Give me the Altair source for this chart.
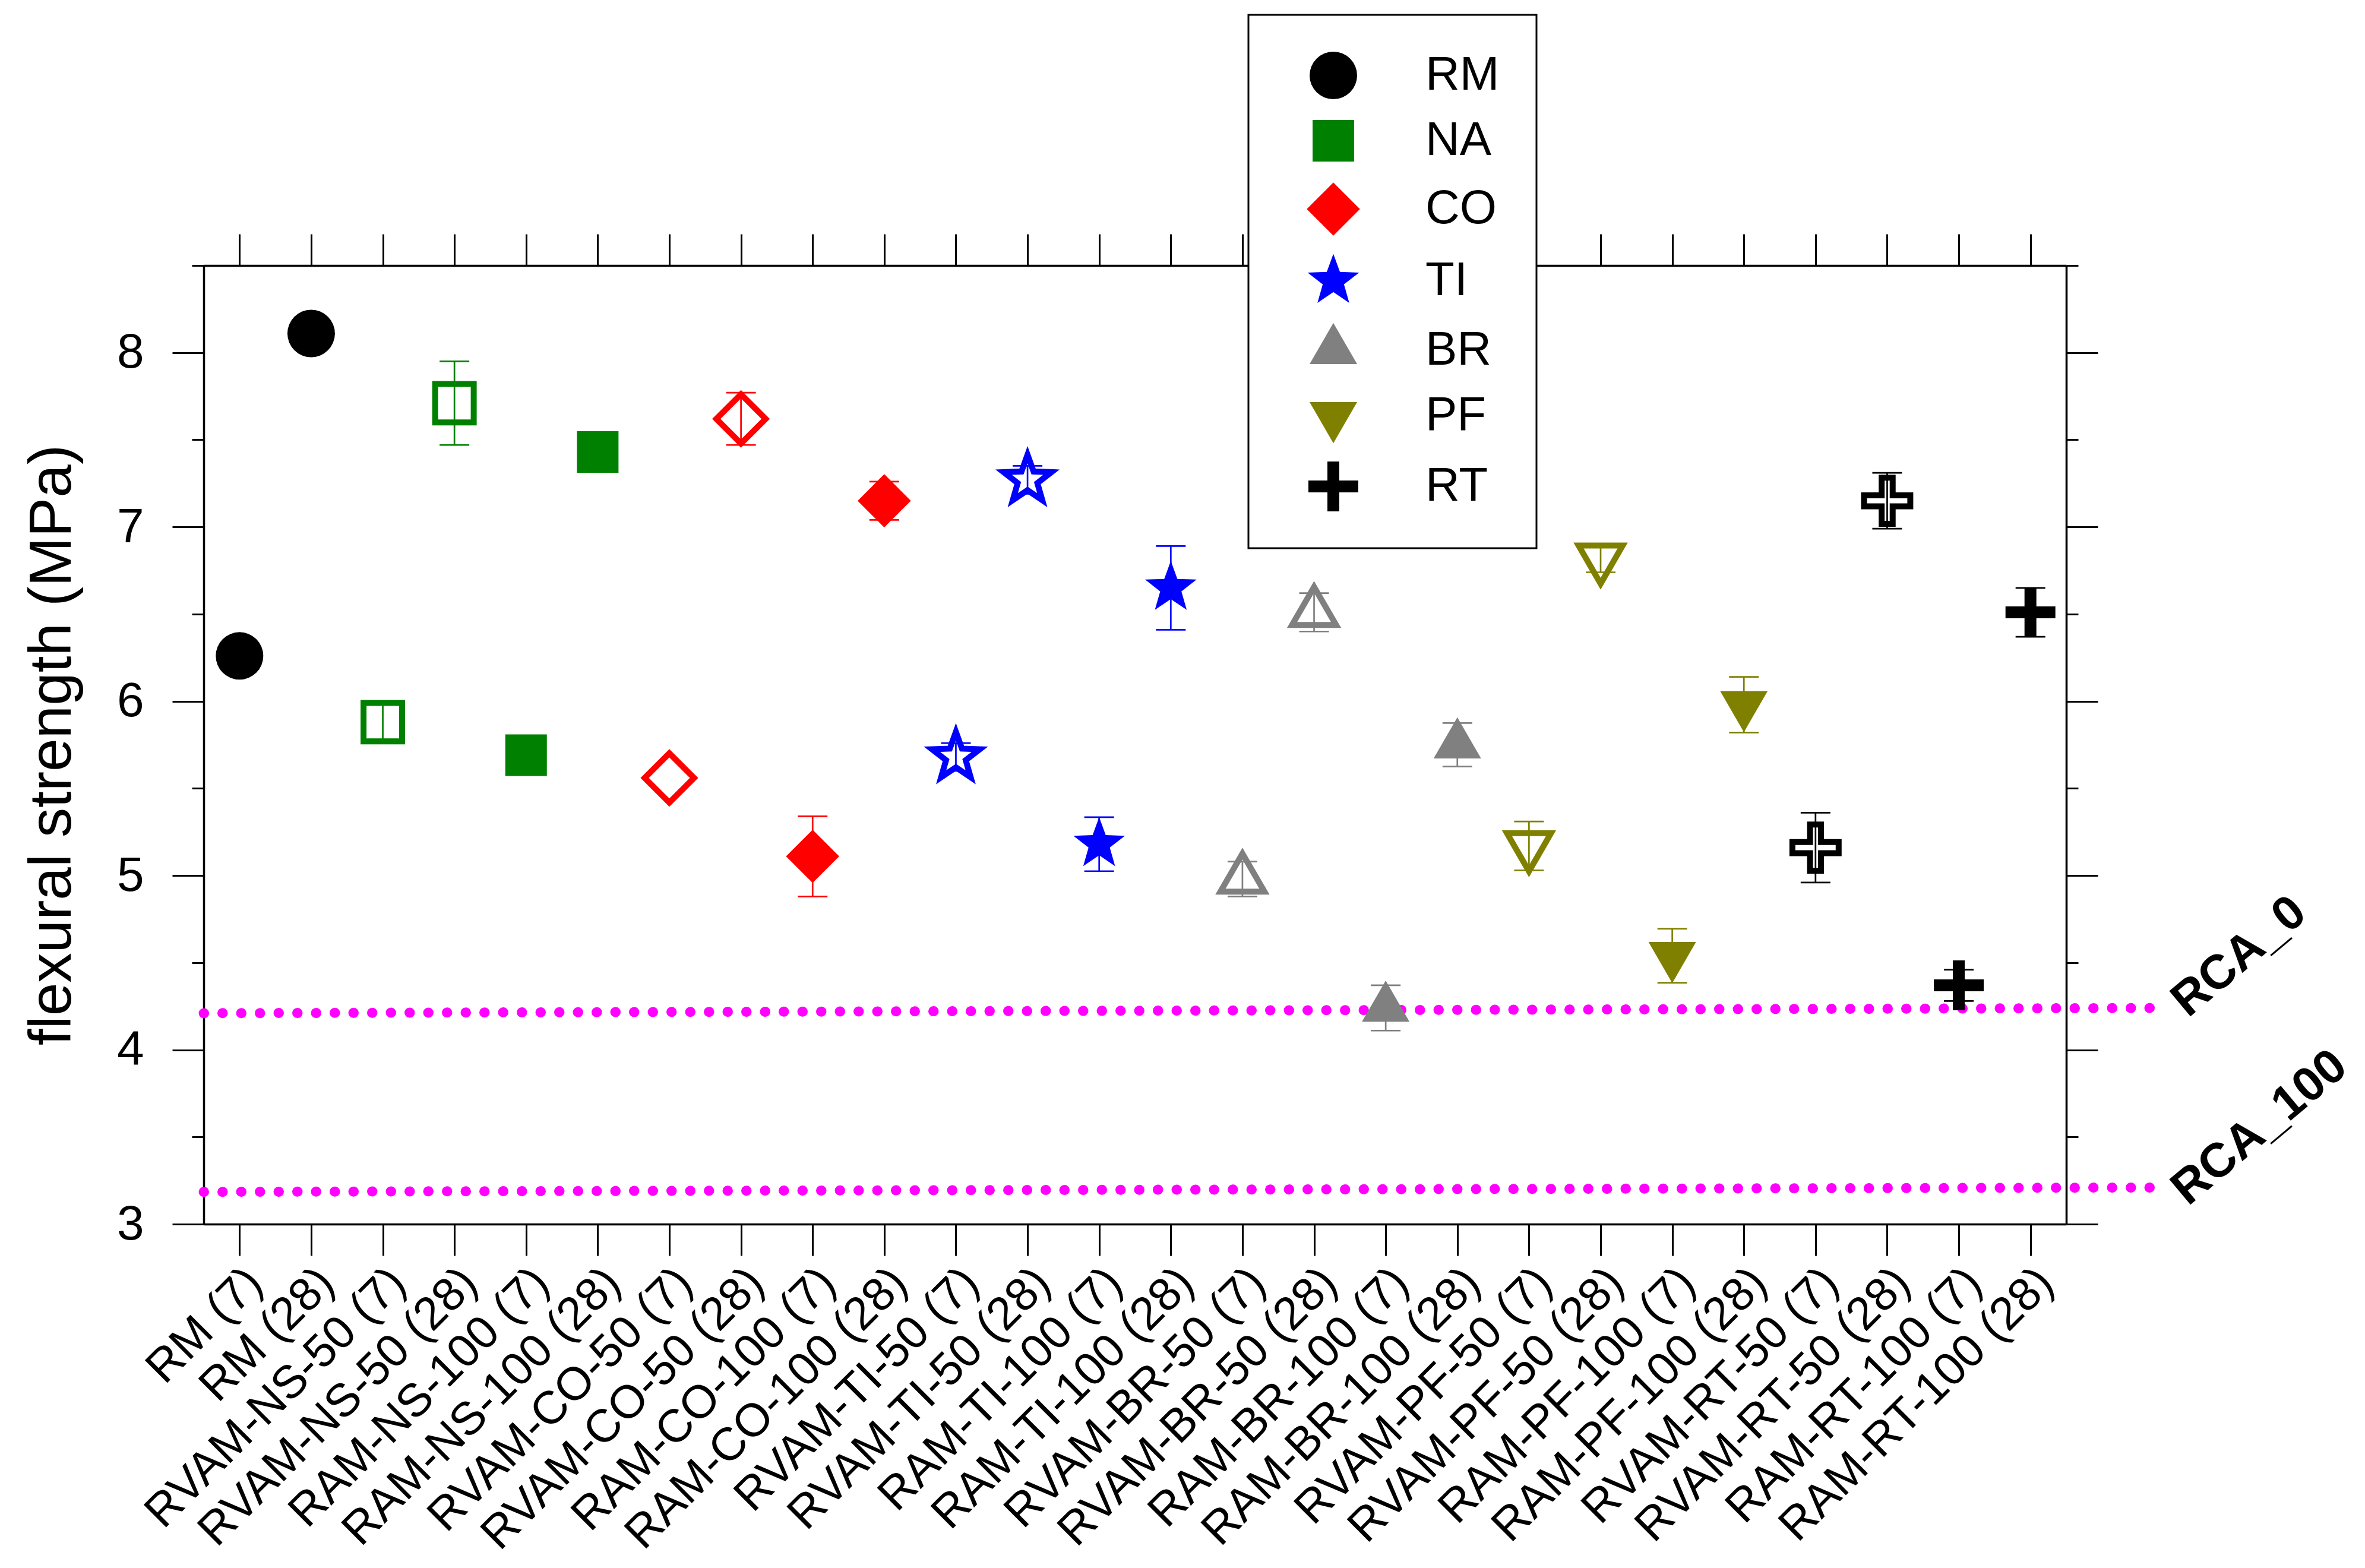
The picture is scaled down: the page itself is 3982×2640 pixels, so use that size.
import json
import math
import altair as alt
import pandas as pd

# ---------------- data ----------------
categories = [
    "RM (7)", "RM (28)",
    "RVAM-NS-50 (7)", "RVAM-NS-50 (28)", "RAM-NS-100 (7)", "RAM-NS-100 (28)",
    "RVAM-CO-50 (7)", "RVAM-CO-50 (28)", "RAM-CO-100 (7)", "RAM-CO-100 (28)",
    "RVAM-TI-50 (7)", "RVAM-TI-50 (28)", "RAM-TI-100 (7)", "RAM-TI-100 (28)",
    "RVAM-BR-50 (7)", "RVAM-BR-50 (28)", "RAM-BR-100 (7)", "RAM-BR-100 (28)",
    "RVAM-PF-50 (7)", "RVAM-PF-50 (28)", "RAM-PF-100 (7)", "RAM-PF-100 (28)",
    "RVAM-RT-50 (7)", "RVAM-RT-50 (28)", "RAM-RT-100 (7)", "RAM-RT-100 (28)",
]
groups = ["RM", "RM"] + [g for g in ["NA", "CO", "TI", "BR", "PF", "RT"] for _ in range(4)]
hollow = [c.startswith("RVAM") for c in categories]
strength = [6.26, 8.11,
            5.88, 7.71, 5.69, 7.43,
            5.56, 7.62, 5.11, 7.15,
            5.68, 7.27, 5.18, 6.65,
            4.98, 6.51, 4.24, 5.75,
            5.17, 6.82, 4.54, 5.98,
            5.16, 7.15, 4.37, 6.51]
error = [None, None,
         0.10, 0.24, None, None,
         None, 0.15, 0.23, 0.11,
         0.08, 0.08, 0.155, 0.24,
         0.10, 0.11, 0.13, 0.125,
         0.14, 0.08, 0.155, 0.16,
         0.20, 0.16, 0.09, 0.14]

group_order = ["RM", "NA", "CO", "TI", "BR", "PF", "RT"]
group_colors = ["#000000", "#008000", "#FF0000", "#0000FF", "#808080", "#808000", "#000000"]

rca_names = ["RCA_0", "RCA_100"]
rca_x = [0.5, 27.7]
rca_y_start = [4.21, 3.185]
rca_y_end = [4.24, 3.21]
rca_label_x = [28.2, 28.2]
rca_label_y = [4.18, 3.10]

y_title = "flexural strength (MPa)"

# ---------------- shapes ----------------
def star_path(R=1.14, r=0.47):
    pts = []
    for i in range(10):
        a = math.radians(-90 + 36 * i)
        rad = R if i % 2 == 0 else r
        pts.append(f"{rad * math.cos(a):.3f},{rad * math.sin(a):.3f}")
    return "M" + " L".join(pts) + " Z"

w, t = 1.05, 0.25
cross_path = (f"M{-t},{-w} L{t},{-w} L{t},{-t} L{w},{-t} L{w},{t} L{t},{t} L{t},{w} "
              f"L{-t},{w} L{-t},{t} L{-w},{t} L{-w},{-t} L{-t},{-t} Z")
shape_range = [
    "circle",
    "M-0.875,-0.875 L0.875,-0.875 L0.875,0.875 L-0.875,0.875 Z",
    "M0,-1.12 L1.12,0 L0,1.12 L-1.12,0 Z",
    star_path(),
    "M0,-1.155 L1,0.577 L-1,0.577 Z",
    "M-1,-0.577 L1,-0.577 L0,1.155 Z",
    cross_path,
]

# ---------------- tables ----------------
df = pd.DataFrame({
    "idx": list(range(1, len(categories) + 1)),
    "name": categories,
    "group": groups,
    "hollow": hollow,
    "strength": strength,
    "err": [e if e is not None else float("nan") for e in error],
})
df["lo"] = df["strength"] - df["err"]
df["hi"] = df["strength"] + df["err"]
df_err = df.dropna(subset=["err"])

lines_df = pd.DataFrame({
    "name": [n for n in rca_names for _ in range(2)],
    "x": rca_x * 2,
    "y": [rca_y_start[0], rca_y_end[0], rca_y_start[1], rca_y_end[1]],
})
labels_df = pd.DataFrame({"name": rca_names, "x": rca_label_x, "y": rca_label_y})

# ---------------- scales / axes ----------------
FONT = "Liberation Sans"
xs = alt.Scale(domain=[0.5, 26.5], nice=False, zero=False)
ys = alt.Scale(domain=[3, 8.5], nice=False, zero=False)
cscale = alt.Scale(domain=group_order, range=group_colors)
sscale = alt.Scale(domain=group_order, range=shape_range)

common = dict(domainColor="black", domainWidth=3.5, tickColor="black", tickWidth=3,
              grid=False, labelFont=FONT, labelColor="black", titleColor="black")
xvals = list(range(1, len(categories) + 1))
yvals = [3 + 0.5 * i for i in range(12)]
ytick = {"condition": {"test": "datum.value % 1 === 0", "value": 53}, "value": 20}

ax_bottom = alt.Axis(orient="bottom", values=xvals, tickSize=53, title=None,
                     labelExpr=json.dumps(categories) + "[datum.value - 1]",
                     labelAngle=315, labelAlign="right", labelBaseline="top",
                     labelPadding=6, labelOffset=-2, labelFontSize=78, labelLimit=3000,
                     labelOverlap=False, labelFlush=False, **common)
ax_top = alt.Axis(orient="top", values=xvals, tickSize=53, labels=False, title=None, **common)
ax_left = alt.Axis(orient="left", values=yvals, tickSize=ytick,
                   labelExpr="datum.value % 1 === 0 ? format(datum.value, 'd') : ''",
                   labelFontSize=82, labelPadding=48, labelOverlap=False,
                   title=y_title, titleFont=FONT, titleFontSize=100, titleFontWeight="normal",
                   titleAngle=270, titleX=-225, titleY=807, titleAlign="center",
                   titleBaseline="alphabetic", **common)
ax_right = alt.Axis(orient="right", values=yvals, tickSize=ytick, labels=False, title=None, **common)

legend = alt.Legend(title=None, orient="none", legendX=1759, legendY=-422, direction="vertical",
                    labelFont=FONT, labelFontSize=80, labelColor="black", labelLimit=0,
                    symbolSize=6400, symbolStrokeWidth=0, padding=62, rowPadding=30,
                    symbolOffset=41, labelOffset=115, strokeColor="black", fillColor="white")

# ---------------- layers ----------------
lines = alt.Chart(lines_df).mark_line(color="#FF00FF", strokeWidth=17, strokeDash=[0.5, 31],
                                      strokeCap="round").encode(
    x=alt.X("x:Q", scale=xs, axis=None),
    y=alt.Y("y:Q", scale=ys, axis=None),
    detail="name:N",
)

bars = alt.Chart(df_err).mark_rule(strokeWidth=2.7).encode(
    x=alt.X("idx:Q", scale=xs, axis=None),
    y=alt.Y("lo:Q", scale=ys, axis=None),
    y2="hi:Q",
    color=alt.Color("group:N", scale=cscale, legend=None),
)
cap_lo = alt.Chart(df_err).mark_tick(orient="horizontal", size=50, thickness=2.7, opacity=1).encode(
    x=alt.X("idx:Q", scale=xs, axis=None),
    y=alt.Y("lo:Q", scale=ys, axis=None),
    color=alt.Color("group:N", scale=cscale, legend=None),
)
cap_hi = alt.Chart(df_err).mark_tick(orient="horizontal", size=50, thickness=2.7, opacity=1).encode(
    x=alt.X("idx:Q", scale=xs, axis=None),
    y=alt.Y("hi:Q", scale=ys, axis=None),
    color=alt.Color("group:N", scale=cscale, legend=None),
)

filled = alt.Chart(df).transform_filter("!datum.hollow").mark_point(
    filled=True, size=6400, opacity=1, strokeWidth=0).encode(
    x=alt.X("idx:Q", scale=xs, axis=ax_bottom),
    y=alt.Y("strength:Q", scale=ys, axis=ax_left),
    color=alt.Color("group:N", scale=cscale, legend=legend),
    shape=alt.Shape("group:N", scale=sscale, legend=legend),
)
hollow_pts = alt.Chart(df).transform_filter("datum.hollow").mark_point(
    filled=False, size=5500, opacity=1, strokeWidth=10).encode(
    x=alt.X("idx:Q", scale=xs, axis=ax_top),
    y=alt.Y("strength:Q", scale=ys, axis=ax_right),
    color=alt.Color("group:N", scale=cscale, legend=None),
    shape=alt.Shape("group:N", scale=sscale, legend=None),
)

texts = alt.Chart(labels_df).mark_text(angle=320, align="left", baseline="alphabetic",
                                       fontSize=81, fontWeight="bold", font=FONT,
                                       color="black").encode(
    x=alt.X("x:Q", scale=xs, axis=None),
    y=alt.Y("y:Q", scale=ys, axis=None),
    text="name:N",
)

chart = alt.layer(lines, bars, cap_lo, cap_hi, filled, hollow_pts, texts).resolve_axis(
    x="independent", y="independent"
).resolve_legend(
    color="independent", shape="independent"
).properties(
    width=3136, height=1614,
    autosize=alt.AutoSizeParams(type="none"),
    padding={"left": 335, "top": 439, "right": 495, "bottom": 570},
    background="white",
).configure_view(stroke=None).configure_legend(strokeWidth=3)

chart.save("out.html", embed_options={"renderer": "svg", "actions": False})
